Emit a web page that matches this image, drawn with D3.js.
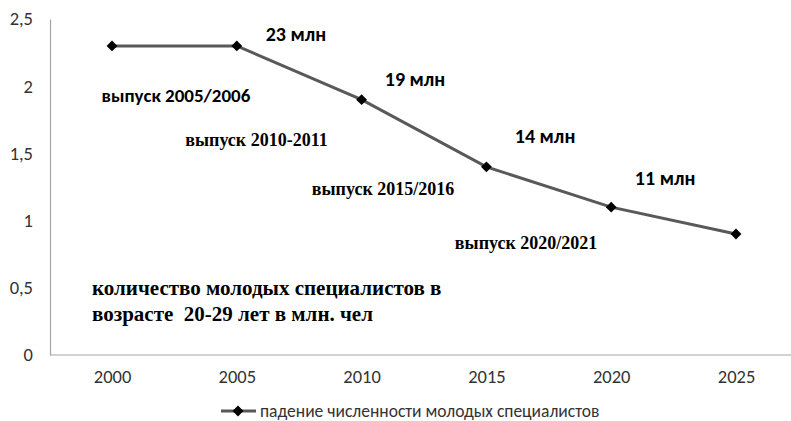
<!DOCTYPE html>
<html><head><meta charset="utf-8">
<script src="https://cdn.jsdelivr.net/npm/d3@7"></script>
<style>
html,body{margin:0;padding:0;background:#fff;}
svg{display:block;}
</style></head>
<body>
<svg id="chart" width="791" height="421"></svg>
<script>
const years = ["2000","2005","2010","2015","2020","2025"];
const values = [2.3, 2.3, 1.9, 1.4, 1.1, 0.9];
const yTicks = [0, 0.5, 1, 1.5, 2, 2.5];
const seriesName = "падение численности молодых специалистов";
const topLabels = ["23 млн","19 млн","14 млн","11 млн"];
const topLabelYears = [2007.37, 2012.14, 2017.35, 2022.16];
const topLabelValues = [2.39, 2.05, 1.63, 1.32];
const gradLabels = ["выпуск 2005/2006","выпуск 2010-2011","выпуск 2015/2016","выпуск 2020/2021"];
const gradLabelYears = [2002.56, 2005.79, 2010.86, 2016.59];
const gradLabelValues = [1.93, 1.60, 1.235, 0.833];
const noteLines = ["количество молодых специалистов в","возрасте\u00a0 20-29 лет в млн. чел"];
const noteYear = 1999.2;
const noteValues = [0.5, 0.31];

const svg = d3.select("#chart");
const x = d3.scalePoint().domain(years).range([112, 736]);
const xl = d3.scaleLinear().domain([2000, 2025]).range([112, 736]);
const y = d3.scaleLinear().domain([0, 2.5]).range([355, 19]);

const sans = "Carlito, Calibri, 'Liberation Sans', sans-serif";
const serif = "'Liberation Serif', 'Times New Roman', serif";

// y axis
const yAxis = svg.append("g").attr("transform","translate(50,0)")
  .call(d3.axisLeft(y).tickValues(yTicks).tickSize(0).tickPadding(17)
    .tickFormat(d => String(d).replace(".", ",")));
yAxis.select(".domain").attr("stroke","#a6a6a6").attr("stroke-width",1.2);
yAxis.selectAll("text").attr("font-family",sans).attr("font-size",18.5).attr("fill","#333");

// x axis
const xAxis = svg.append("g").attr("transform","translate(0,355)")
  .call(d3.axisBottom(x).tickSize(0).tickPadding(15));
xAxis.select(".domain").attr("d","M50,0H791").attr("stroke","#a6a6a6").attr("stroke-width",1.2);
xAxis.selectAll("text").attr("font-family",sans).attr("font-size",18.5).attr("fill","#333");

// line
const line = d3.line().x((d,i)=>x(years[i])).y(d=>y(d));
svg.append("path").datum(values).attr("d",line)
  .attr("fill","none").attr("stroke","#595959").attr("stroke-width",3);

const diamond = d3.symbol().type(d3.symbolDiamond2).size(75);
svg.selectAll(".pt").data(values).enter().append("path")
  .attr("transform",(d,i)=>`translate(${x(years[i])},${y(d)})`)
  .attr("d",diamond).attr("fill","#000");

// top labels (bold sans)
svg.selectAll(".tl").data(topLabels).enter().append("text")
  .attr("x",(d,i)=>xl(topLabelYears[i]))
  .attr("y",(d,i)=>y(topLabelValues[i]))
  .attr("dy","0.35em").attr("text-anchor","middle")
  .attr("font-family",sans).attr("font-weight","bold").attr("font-size",20)
  .attr("fill","#000").text(d=>d);

// graduation labels
svg.selectAll(".gl").data(gradLabels).enter().append("text")
  .attr("x",(d,i)=>xl(gradLabelYears[i]))
  .attr("y",(d,i)=>y(gradLabelValues[i]))
  .attr("dy","0.35em").attr("text-anchor","middle")
  .attr("font-family",(d,i)=> i===0 ? sans : serif)
  .attr("font-weight","bold").attr("font-size",(d,i)=> i===0 ? 19 : 18)
  .attr("fill","#000").text(d=>d);

// note
svg.selectAll(".note").data(noteLines).enter().append("text")
  .attr("x",xl(noteYear)).attr("y",(d,i)=>y(noteValues[i])).attr("dy","0.35em")
  .attr("font-family",serif).attr("font-weight","bold").attr("font-size",21)
  .attr("fill","#000").text(d=>d);

// legend
const lg = svg.append("g").attr("transform","translate(0,411)");
lg.append("line").attr("x1",221).attr("x2",256).attr("y1",0).attr("y2",0)
  .attr("stroke","#595959").attr("stroke-width",3);
lg.append("path").attr("transform","translate(238,0)").attr("d",diamond).attr("fill","#000");
lg.append("text").attr("x",260).attr("y",0).attr("dy","0.35em")
  .attr("font-family",sans).attr("font-size",17.5).attr("fill","#333").text(seriesName);
</script>
</body></html>
